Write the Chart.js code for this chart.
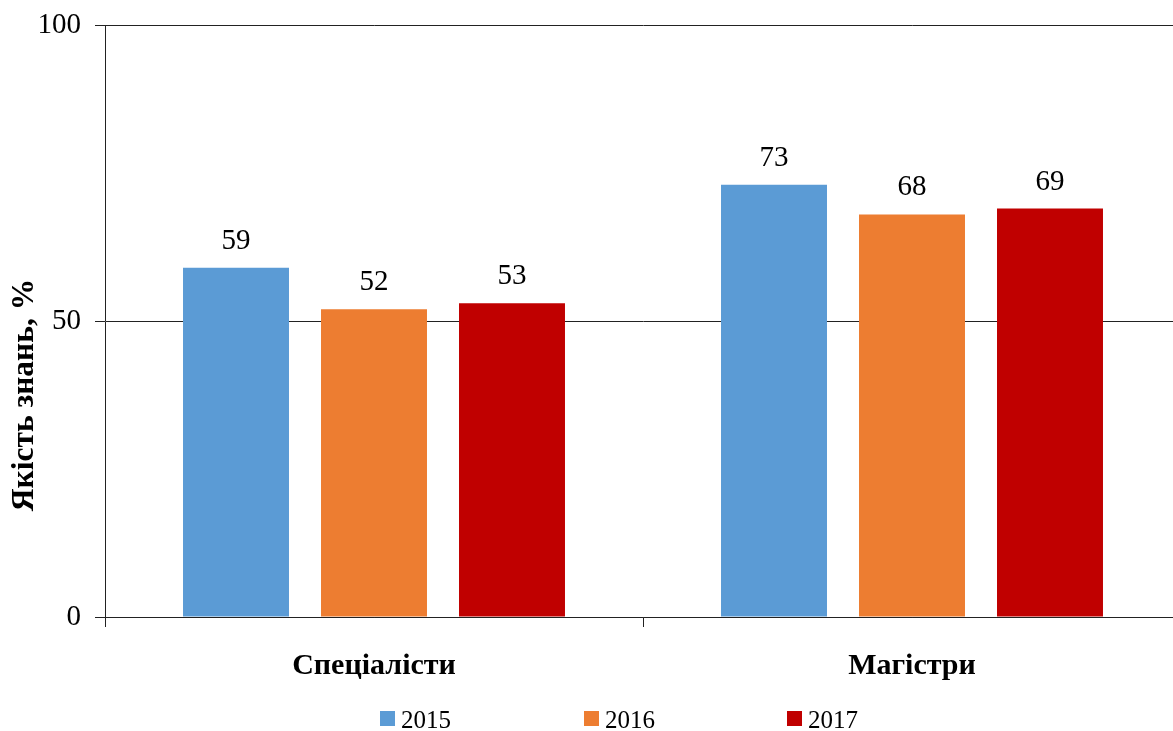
<!DOCTYPE html>
<html>
<head>
<meta charset="utf-8">
<script src="https://cdn.jsdelivr.net/npm/chart.js@4"></script>
<style>
  html, body { margin: 0; padding: 0; background: #fff; overflow: hidden; }
  #wrap { width: 1173px; height: 731px; overflow: hidden; }
</style>
</head>
<body>
<div id="wrap"><canvas id="chart" width="1181" height="731"></canvas></div>
<script>
// data
const categories = ["Спеціалісти", "Магістри"];
const years = ["2015", "2016", "2017"];
const values2015 = [59, 73];
const values2016 = [52, 68];
const values2017 = [53, 69];
const yTicks = [0, 50, 100];
const colors = ["#5B9BD5", "#ED7D31", "#C00000"];

const serif = "'Liberation Serif', 'Times New Roman', serif";

// value labels over bars + legend + axis title
const extras = {
    id: "extras",
    afterDatasetsDraw(chart) {
        const ctx = chart.ctx;
        ctx.save();
        ctx.fillStyle = "#000";
        ctx.font = "29px " + serif;
        ctx.textAlign = "center";
        ctx.textBaseline = "alphabetic";
        chart.data.datasets.forEach((ds, i) => {
            chart.getDatasetMeta(i).data.forEach((bar, j) => {
                ctx.fillText(String(ds.data[j]), bar.x, bar.y - 19);
            });
        });

        // y title
        ctx.save();
        ctx.translate(33, 395);
        ctx.rotate(-Math.PI / 2);
        ctx.font = "bold 31.5px " + serif;
        ctx.textAlign = "center";
        ctx.fillText("Якість знань, %", 0, 0);
        ctx.restore();

        // legend
        const lx = [380, 584, 787];
        ctx.font = "25px " + serif;
        ctx.textAlign = "left";
        chart.data.datasets.forEach((ds, i) => {
            ctx.fillStyle = ds.backgroundColor;
            ctx.fillRect(lx[i], 711, 15, 15);
            ctx.fillStyle = "#000";
            ctx.fillText(ds.label, lx[i] + 21, 728);
        });
        ctx.restore();
    }
};

new Chart(document.getElementById("chart"), {
    type: "bar",
    data: {
        labels: categories,
        datasets: [
            { label: years[0], data: values2015, backgroundColor: colors[0] },
            { label: years[1], data: values2016, backgroundColor: colors[1] },
            { label: years[2], data: values2017, backgroundColor: colors[2] }
        ]
    },
    options: {
        responsive: false,
        animation: false,
        categoryPercentage: 0.7695,
        barPercentage: 0.768,
        layout: { padding: { top: 25, left: 0, right: 0, bottom: 0 } },
        plugins: {
            legend: { display: false },
            tooltip: { enabled: false }
        },
        scales: {
            x: {
                offset: true,
                grid: {
                    offset: true,
                    drawOnChartArea: false,
                    drawTicks: true,
                    tickLength: 10,
                    color: "#222"
                },
                border: { color: "#222", width: 1 },
                ticks: {
                    color: "#000",
                    padding: 21,
                    font: { family: serif, size: 30, weight: "bold" }
                },
                afterFit(scale) {
                    scale.height = 114;
                    scale.paddingLeft = 0;
                    scale.paddingRight = 0;
                }
            },
            y: {
                min: 0,
                max: 100,
                afterBuildTicks(scale) {
                    scale.ticks = yTicks.map(v => ({ value: v }));
                },
                grid: {
                    color: "#222",
                    lineWidth: 1,
                    tickLength: 10
                },
                border: { color: "#222", width: 1 },
                ticks: {
                    color: "#000",
                    padding: 14,
                    font: { family: serif, size: 29 }
                },
                afterFit(scale) {
                    scale.width = 105;
                    scale.paddingTop = 0;
                    scale.paddingBottom = 0;
                }
            }
        }
    },
    plugins: [extras]
});
</script>
</body>
</html>
